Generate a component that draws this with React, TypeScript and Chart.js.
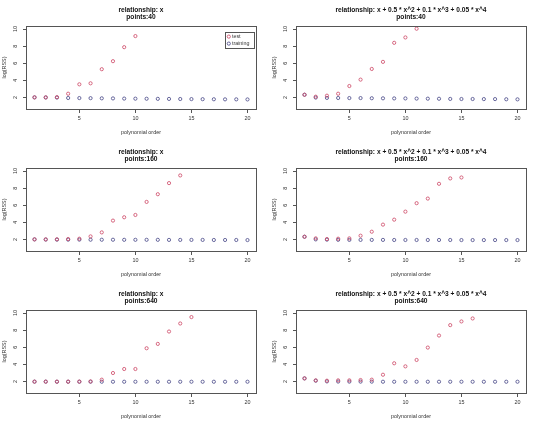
import { useEffect, useRef } from "react";
import { Chart, registerables } from "chart.js";

Chart.register(...registerables);

const FONT = '"Liberation Sans", Arial, Helvetica, sans-serif';
const TEST_COLOR = "rgb(205,70,100)";
const TRAIN_COLOR = "rgb(70,70,135)";
const LINE_COLOR = "#555";
const TEXT_COLOR = "#333";

const orders = [1, 2, 3, 4, 5, 6, 7, 8, 9, 10, 11, 12, 13, 14, 15, 16, 17, 18, 19, 20];
const xTicks = [5, 10, 15, 20];
const yTicks = [2, 4, 6, 8, 10];

const titleLinear = "relationship: x";
const titlePoly = "relationship: x + 0.5 * x^2 + 0.1 * x^3 + 0.05 * x^4";
const pointCounts = ["points:40", "points:160", "points:640"];

const testX40 = [2.0, 2.0, 2.03, 2.43, 3.53, 3.65, 5.3, 6.24, 7.88, 9.18];
const trainX40 = [2.0, 1.99, 1.98, 1.93, 1.92, 1.91, 1.89, 1.88, 1.86, 1.85, 1.84, 1.83, 1.82, 1.81, 1.8, 1.79, 1.78, 1.77, 1.77, 1.76];
const testPoly40 = [2.31, 2.08, 2.2, 2.43, 3.33, 4.08, 5.33, 6.16, 8.39, 9.02, 10.04];
const trainPoly40 = [2.31, 1.98, 1.94, 1.93, 1.92, 1.92, 1.9, 1.89, 1.88, 1.88, 1.86, 1.85, 1.84, 1.82, 1.81, 1.81, 1.8, 1.8, 1.78, 1.77];

const testX160 = [2.0, 2.0, 2.01, 2.04, 2.08, 2.35, 2.82, 4.2, 4.59, 4.86, 6.39, 7.29, 8.59, 9.49];
const trainX160 = [2.0, 1.98, 1.97, 1.97, 1.97, 1.96, 1.96, 1.96, 1.95, 1.95, 1.95, 1.95, 1.94, 1.94, 1.94, 1.94, 1.93, 1.93, 1.93, 1.92];
const testPoly160 = [2.31, 2.12, 2.04, 2.08, 2.12, 2.43, 2.9, 3.73, 4.31, 5.25, 6.24, 6.78, 8.51, 9.14, 9.25];
const trainPoly160 = [2.31, 2.0, 1.97, 1.95, 1.94, 1.94, 1.94, 1.94, 1.93, 1.93, 1.93, 1.93, 1.93, 1.93, 1.92, 1.92, 1.92, 1.92, 1.92, 1.92];

const testX640 = [1.97, 1.97, 1.97, 1.97, 1.98, 2.0, 2.2, 2.98, 3.45, 3.45, 5.88, 6.39, 7.84, 8.78, 9.53];
const trainX640 = [1.97, 1.97, 1.96, 1.96, 1.96, 1.96, 1.96, 1.96, 1.96, 1.96, 1.96, 1.96, 1.96, 1.96, 1.96, 1.96, 1.96, 1.96, 1.96, 1.96];
const testPoly640 = [2.35, 2.12, 2.08, 2.12, 2.12, 2.16, 2.2, 2.78, 4.12, 3.76, 4.51, 5.96, 7.37, 8.59, 9.02, 9.37];
const trainPoly640 = [2.35, 2.08, 2.0, 1.98, 1.97, 1.97, 1.97, 1.96, 1.96, 1.96, 1.96, 1.96, 1.96, 1.96, 1.96, 1.96, 1.96, 1.96, 1.96, 1.96];

const legendLabels = ["test", "training"];

const W = 270;
const H = 142;

const rPlugin = {
  id: "rframe",
  afterDraw(chart: any, _args: any, opts: any) {
    const ctx: CanvasRenderingContext2D = chart.ctx;
    const { left, right, top, bottom } = chart.chartArea;
    const xs = chart.scales.x;
    const ys = chart.scales.y;
    const L = Math.round(left) + 0.5;
    const R = Math.round(right) + 0.5;
    const T = Math.round(top) + 0.5;
    const B = Math.round(bottom) + 0.5;
    ctx.save();
    ctx.strokeStyle = LINE_COLOR;
    ctx.lineWidth = 1;
    ctx.strokeRect(L, T, R - L, B - T);

    // x ticks
    ctx.fillStyle = TEXT_COLOR;
    ctx.font = `5.4px ${FONT}`;
    ctx.textAlign = "center";
    ctx.textBaseline = "middle";
    ctx.beginPath();
    for (const t of xTicks) {
      const px = Math.round(xs.getPixelForValue(t)) + 0.5;
      ctx.moveTo(px, B);
      ctx.lineTo(px, B + 3.5);
    }
    for (const t of yTicks) {
      const py = Math.round(ys.getPixelForValue(t)) + 0.5;
      ctx.moveTo(L, py);
      ctx.lineTo(L - 3.5, py);
    }
    ctx.stroke();
    for (const t of xTicks) {
      ctx.fillText(String(t), xs.getPixelForValue(t), bottom + 9.3);
    }
    for (const t of yTicks) {
      const py = ys.getPixelForValue(t);
      ctx.save();
      ctx.translate(16, py);
      ctx.rotate(-Math.PI / 2);
      ctx.fillText(String(t), 0, 0);
      ctx.restore();
    }
    const cx = (left + right) / 2;
    ctx.fillText("polynomial order", cx, bottom + 23.3);
    ctx.save();
    ctx.translate(4.5, (top + bottom) / 2);
    ctx.rotate(-Math.PI / 2);
    ctx.fillText("log(RSS)", 0, 0);
    ctx.restore();

    // titles
    ctx.fillStyle = "#111";
    ctx.font = `bold 6.6px ${FONT}`;
    ctx.fillText(opts.title1, cx, 9.7);
    ctx.fillText(opts.title2, cx, 17.2);

    if (opts.legend) {
      ctx.strokeStyle = LINE_COLOR;
      ctx.lineWidth = 1;
      ctx.strokeRect(225.5, 32.5, 29, 16);
      const colors = [TEST_COLOR, TRAIN_COLOR];
      const rows = [36.6, 43.6];
      ctx.font = `5.3px ${FONT}`;
      ctx.textAlign = "left";
      ctx.fillStyle = TEXT_COLOR;
      legendLabels.forEach((lab, i) => {
        ctx.beginPath();
        ctx.strokeStyle = colors[i];
        ctx.lineWidth = 0.8;
        ctx.arc(228.8, rows[i], 1.6, 0, Math.PI * 2);
        ctx.stroke();
        ctx.fillText(lab, 232, rows[i]);
      });
    }
    ctx.restore();
  },
};

type PanelProps = {
  title1: string;
  title2: string;
  test: number[];
  train: number[];
  legend?: boolean;
};

function Panel({ title1, title2, test, train, legend }: PanelProps) {
  const ref = useRef<HTMLCanvasElement>(null);
  useEffect(() => {
    if (!ref.current) return;
    const pointStyle = {
      pointRadius: 1.6,
      pointHoverRadius: 1.6,
      borderWidth: 0.8,
      backgroundColor: "rgba(0,0,0,0)",
      showLine: false,
    };
    const chart = new Chart(ref.current, {
      type: "scatter",
      data: {
        datasets: [
          {
            label: legendLabels[0],
            data: test.map((v, i) => ({ x: orders[i], y: v })),
            borderColor: TEST_COLOR,
            ...pointStyle,
          },
          {
            label: legendLabels[1],
            data: train.map((v, i) => ({ x: orders[i], y: v })),
            borderColor: TRAIN_COLOR,
            ...pointStyle,
          },
        ],
      },
      options: {
        animation: false,
        responsive: false,
        events: [],
        layout: { padding: { left: 26, right: 14, top: 26, bottom: 33 } },
        scales: {
          x: { type: "linear", display: false, min: 0.24, max: 20.76 },
          y: { type: "linear", display: false, min: 0.64, max: 10.36 },
        },
        plugins: {
          legend: { display: false },
          tooltip: { enabled: false },
          title: { display: false },
          rframe: { title1, title2, legend: !!legend },
        } as any,
      },
      plugins: [rPlugin],
    });
    return () => chart.destroy();
  }, [title1, title2, test, train, legend]);
  return (
    <canvas
      ref={ref}
      width={W}
      height={H}
      style={{ display: "block", width: W, height: H }}
    />
  );
}

export default function App() {
  return (
    <div
      style={{
        position: "absolute",
        left: 0,
        top: 0,
        width: 540,
        height: 426,
        background: "#fff",
        display: "grid",
        gridTemplateColumns: "270px 270px",
        gridTemplateRows: "142px 142px 142px",
      }}
    >
      <Panel title1={titleLinear} title2={pointCounts[0]} test={testX40} train={trainX40} legend />
      <Panel title1={titlePoly} title2={pointCounts[0]} test={testPoly40} train={trainPoly40} />
      <Panel title1={titleLinear} title2={pointCounts[1]} test={testX160} train={trainX160} />
      <Panel title1={titlePoly} title2={pointCounts[1]} test={testPoly160} train={trainPoly160} />
      <Panel title1={titleLinear} title2={pointCounts[2]} test={testX640} train={trainX640} />
      <Panel title1={titlePoly} title2={pointCounts[2]} test={testPoly640} train={trainPoly640} />
    </div>
  );
}
